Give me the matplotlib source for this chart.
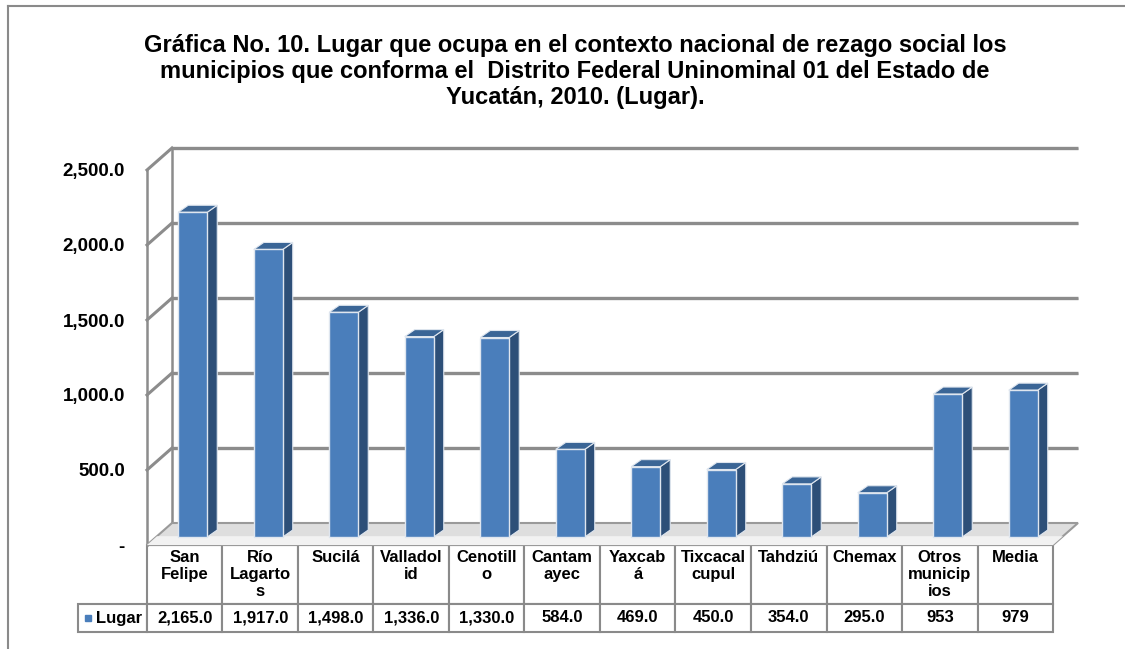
import matplotlib
matplotlib.use("Agg")
import matplotlib.pyplot as plt
from matplotlib.patches import Polygon
from matplotlib.lines import Line2D
import numpy as np

plt.rcParams['font.family'] = ['Liberation Sans', 'DejaVu Sans']

municipios = ["San Felipe", "Río Lagartos", "Sucilá", "Valladolid", "Cenotillo",
              "Cantamayec", "Yaxcabá", "Tixcacalcupul", "Tahdziú", "Chemax",
              "Otros municipios", "Media"]
header_labels = ["San\nFelipe", "Río\nLagarto\ns", "Sucilá", "Valladol\nid",
                 "Cenotill\no", "Cantam\nayec", "Yaxcab\ná", "Tixcacal\ncupul",
                 "Tahdziú", "Chemax", "Otros\nmunicip\nios", "Media"]
lugar = [2165.0, 1917.0, 1498.0, 1336.0, 1330.0, 584.0, 469.0, 450.0, 354.0, 295.0, 953, 979]
lugar_txt = ["2,165.0", "1,917.0", "1,498.0", "1,336.0", "1,330.0", "584.0",
             "469.0", "450.0", "354.0", "295.0", "953", "979"]
yticks = [0, 500, 1000, 1500, 2000, 2500]
ytick_txt = ["-", "500.0", "1,000.0", "1,500.0", "2,000.0", "2,500.0"]
titulo = ("Gráfica No. 10. Lugar que ocupa en el contexto nacional de rezago social los\n"
          "municipios que conforma el  Distrito Federal Uninominal 01 del Estado de\n"
          "Yucatán, 2010. (Lugar).")

W, H = 1125, 649
fig = plt.figure(figsize=(W / 100, H / 100), dpi=100)
# front plane of the plot box, in pixels
px_l, px_r, px_b, px_t = 147, 1053, 545, 170
aw, ah = px_r - px_l, px_b - px_t
ax = fig.add_axes([px_l / W, 1 - px_b / H, aw / W, ah / H])
n = len(lugar)
ax.set_xlim(-0.5, n - 0.5)
ax.set_ylim(0, 2500)
for s in ax.spines.values():
    s.set_visible(False)
ax.set_xticks([])

# pixel -> data conversion for the depth offsets
ux = aw / n
uy = ah / 2500.0
Dx, Dy = 25 / ux, 22 / uy          # depth of the whole box
bx, by = 8 / ux, 8 / uy            # bars sit a bit behind the front
dx, dy = 10 / ux, 7 / uy           # depth of each bar
bw = 29 / ux

grid_c = '#8c8c8c'
x0, x1 = -0.5, n - 0.5

# side wall
ax.plot([x0, x0], [0, 2500], color=grid_c, lw=1.8, clip_on=False, zorder=2)
ax.plot([x0 + Dx, x0 + Dx], [Dy, 2500 + Dy], color=grid_c, lw=1.8, clip_on=False, zorder=2)
for t in yticks[1:]:
    ax.plot([x0, x0 + Dx], [t, t + Dy], color=grid_c, lw=2.2, clip_on=False, zorder=2)
    ax.plot([x0 + Dx, x1 + Dx], [t + Dy, t + Dy], color=grid_c, lw=2.4,
            solid_capstyle='butt', clip_on=False, zorder=2)
    ax.plot([x0 + Dx, x1 + Dx], [t + Dy - 8, t + Dy - 8], color='#d8d8d8', lw=1.2,
            clip_on=False, zorder=1.9)

# floor
ax.add_patch(Polygon([(x0, 0), (x1, 0), (x1 + Dx, Dy), (x0 + Dx, Dy)], closed=True,
                     facecolor='#dedede', edgecolor='#9a9a9a', lw=1.5, clip_on=False, zorder=3))
ax.add_patch(Polygon([(x0, 0), (x1, 0), (x1 + Dx * 0.4, Dy * 0.4), (x0 + Dx * 0.4, Dy * 0.4)],
                     closed=True, facecolor='#f2f2f2', edgecolor='none', clip_on=False, zorder=3.1))

# 3D bars
xs = np.arange(n)
front_c, side_c, top_c = '#4a7ebb', '#2d4f78', '#3a6596'
for x, v in zip(xs, lugar):
    xl, xr = x + bx - bw / 2, x + bx + bw / 2
    ax.add_patch(Polygon([(xr, by), (xr + dx, by + dy), (xr + dx, by + v + dy), (xr, by + v)],
                         closed=True, facecolor=side_c, edgecolor='#dfe6ef', lw=0.8,
                         clip_on=False, zorder=4))
    ax.add_patch(Polygon([(xl, by + v), (xr, by + v), (xr + dx, by + v + dy), (xl + dx, by + v + dy)],
                         closed=True, facecolor=top_c, edgecolor='#dfe6ef', lw=0.8,
                         clip_on=False, zorder=4))
ax.bar(xs + bx, lugar, width=bw, bottom=by, color=front_c, edgecolor='#dfe6ef',
       linewidth=1.0, zorder=5, clip_on=False)

# y axis labels
ax.set_yticks(yticks)
ax.set_yticklabels(ytick_txt, fontsize=13.5, fontweight='bold')
ax.tick_params(axis='y', length=0, pad=16)

# data table (widths/heights in axes units so the bbox needs no rescaling)
h_head, h_val = 59 / ah, 28 / ah
tbl = ax.table(cellText=[lugar_txt], rowLabels=['   Lugar'],
               colLabels=[h + '\n' * (2 - h.count('\n')) for h in header_labels],
               cellLoc='center', rowLoc='center',
               bbox=[0, -(h_head + h_val), 1, h_head + h_val])
tbl._autoColumns.clear()
tbl.auto_set_font_size(False)
for (r, c), cell in tbl.get_celld().items():
    cell.set_edgecolor('#8a8a8a')
    cell.set_linewidth(1.5)
    cell.get_text().set_fontsize(12)
    cell.get_text().set_fontweight('bold')
    cell.set_width(69 / aw if c == -1 else 1 / n)
    cell.set_height(h_head if r == 0 else h_val)
tbl[(1, -1)].get_text().set_ha('center')
ax.plot([(88 - px_l) / aw], [-(618 - px_b) / ah], marker='s',
        ms=5, color=front_c, transform=ax.transAxes, clip_on=False, zorder=10)

# title
fig.text(575 / W, 1 - 34 / H, titulo, ha='center', va='top', fontsize=17,
         fontweight='bold', linespacing=1.16)

# outer frame (left and top only visible)
fig.add_artist(Line2D([8 / W, 8 / W], [0, 1 - 6 / H], color='#8a8a8a', lw=1.5))
fig.add_artist(Line2D([8 / W, 1], [1 - 6 / H, 1 - 6 / H], color='#8a8a8a', lw=1.5))

fig.savefig('out.png', dpi=100)
